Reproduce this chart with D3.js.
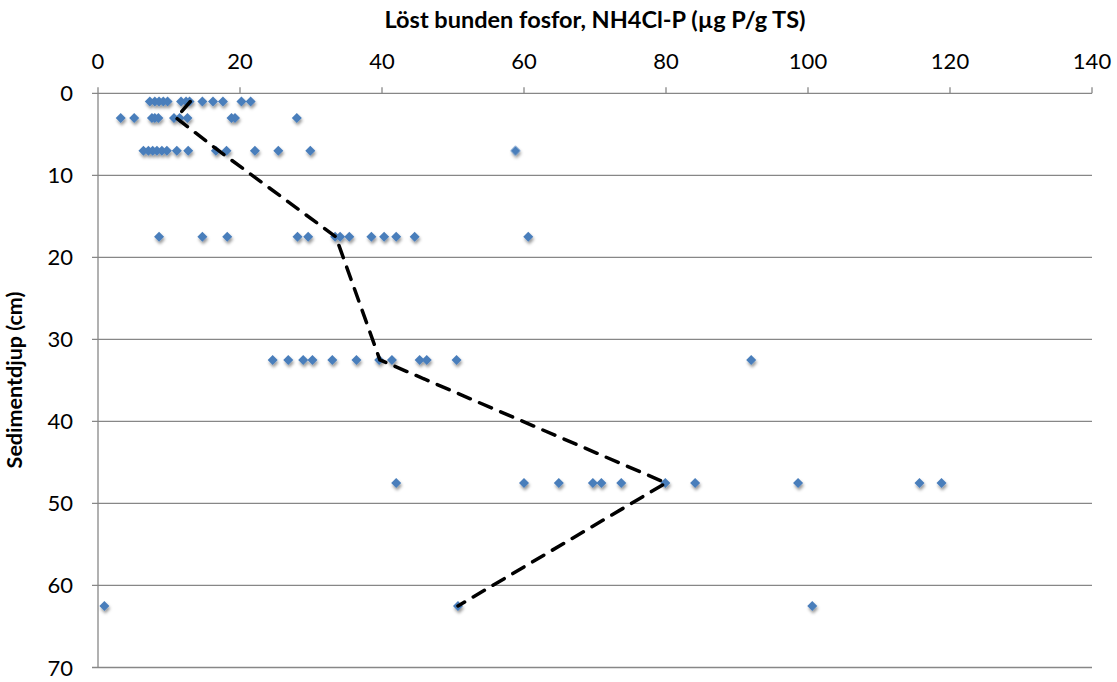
<!DOCTYPE html>
<html><head><meta charset="utf-8">
<script src="https://cdn.jsdelivr.net/npm/d3@7"></script>
<style>body{margin:0;background:#fff;} svg{display:block;font-family:Lato,'Open Sans',sans-serif;}</style>
</head><body><svg id="c" width="1117" height="682"></svg>
<script>
// Depth levels (cm)
const depthLevels = [1, 3, 7, 17.5, 32.5, 47.5, 62.5];
// NH4Cl-P values (µg P/g TS) at each depth level
const pDepth1    = [7.3, 8.0, 8.6, 9.2, 9.8, 11.7, 12.4, 12.9, 14.7, 16.2, 17.6, 20.2, 21.5];
const pDepth3    = [3.2, 5.1, 7.6, 8.0, 8.5, 10.7, 11.5, 12.6, 18.8, 19.3, 28.0];
const pDepth7    = [6.4, 7.1, 7.7, 8.3, 9.0, 9.7, 11.1, 12.7, 16.6, 18.1, 22.1, 25.4, 29.9, 58.8];
const pDepth17_5 = [8.6, 14.7, 18.2, 28.1, 29.6, 33.4, 34.1, 35.4, 38.5, 40.3, 42.0, 44.6, 60.6];
const pDepth32_5 = [24.6, 26.8, 28.9, 30.2, 33.0, 36.4, 39.6, 41.4, 45.3, 46.3, 50.5, 92.0];
const pDepth47_5 = [42.0, 60.0, 64.9, 69.7, 70.9, 73.7, 79.9, 84.1, 98.6, 115.7, 118.8];
const pDepth62_5 = [0.9, 50.7, 100.6];
// Dashed mean-profile line
const meanP = [13.0, 11.0, 17.0, 33.5, 39.7, 80.0, 50.7];
// Axis ticks
const xTicks = [0, 20, 40, 60, 80, 100, 120, 140];
const yTicks = [0, 10, 20, 30, 40, 50, 60, 70];
const xTitle = "Löst bunden fosfor, NH4Cl-P (µg P/g TS)";
const yTitle = "Sedimentdjup (cm)";

const rows = [pDepth1, pDepth3, pDepth7, pDepth17_5, pDepth32_5, pDepth47_5, pDepth62_5];
const points = [];
rows.forEach((vals, i) => vals.forEach(v => points.push({x: v, y: depthLevels[i]})));
const linePts = meanP.map((v, i) => ({x: v, y: depthLevels[i]}));

const L = 98, R = 1092, T = 93.3, B = 667.5;
const x = d3.scaleLinear().domain([0, 140]).range([L, R]);
const y = d3.scaleLinear().domain([0, 70]).range([T, B]);
const svg = d3.select("#c");
const grid = "#878787";

const defs = svg.append("defs");
const f = defs.append("filter").attr("id", "sh").attr("x", "-50%").attr("y", "-50%").attr("width", "220%").attr("height", "220%");
f.append("feDropShadow").attr("dx", 1).attr("dy", 2.5).attr("stdDeviation", 1.6).attr("flood-color", "#000").attr("flood-opacity", 0.4);

svg.append("g").selectAll("line").data(yTicks).join("line")
  .attr("x1", L - 6).attr("x2", R).attr("y1", d => y(d)).attr("y2", d => y(d))
  .attr("stroke", grid).attr("stroke-width", 1.3);
svg.append("line").attr("x1", L).attr("x2", L).attr("y1", T).attr("y2", B).attr("stroke", grid).attr("stroke-width", 1.3);
svg.append("g").selectAll("line").data(xTicks).join("line")
  .attr("x1", d => x(d)).attr("x2", d => x(d)).attr("y1", T - 6).attr("y2", T)
  .attr("stroke", grid).attr("stroke-width", 1.3);

svg.append("g").selectAll("text").data(xTicks).join("text")
  .attr("x", d => x(d)).attr("y", 69).attr("text-anchor", "middle")
  .attr("font-size", 22).attr("fill", "#000").text(d => d);
svg.append("g").selectAll("text").data(yTicks).join("text")
  .attr("x", 73).attr("y", d => y(d) + 8).attr("text-anchor", "end")
  .attr("font-size", 22).attr("fill", "#000").text(d => d);

svg.append("text").attr("x", 595).attr("y", 28).attr("text-anchor", "middle")
  .attr("font-size", 23.5).attr("font-weight", "bold").text(xTitle);
svg.append("text").attr("transform", "translate(22,380) rotate(-90)").attr("text-anchor", "middle")
  .attr("font-size", 21.5).attr("font-weight", "bold").text(yTitle);

const sym = d3.symbol().type(d3.symbolSquare).size(50);
svg.append("g").attr("filter", "url(#sh)").selectAll("path").data(points).join("path")
  .attr("d", sym)
  .attr("transform", d => `translate(${x(d.x)},${y(d.y)}) rotate(45)`)
  .attr("fill", "#4a7ebb");

svg.append("path").datum(linePts)
  .attr("d", d3.line().x(d => x(d.x)).y(d => y(d.y)))
  .attr("fill", "none").attr("stroke", "#000").attr("stroke-width", 3.5)
  .attr("stroke-dasharray", "13,10").attr("stroke-linecap", "round");
</script></body></html>
